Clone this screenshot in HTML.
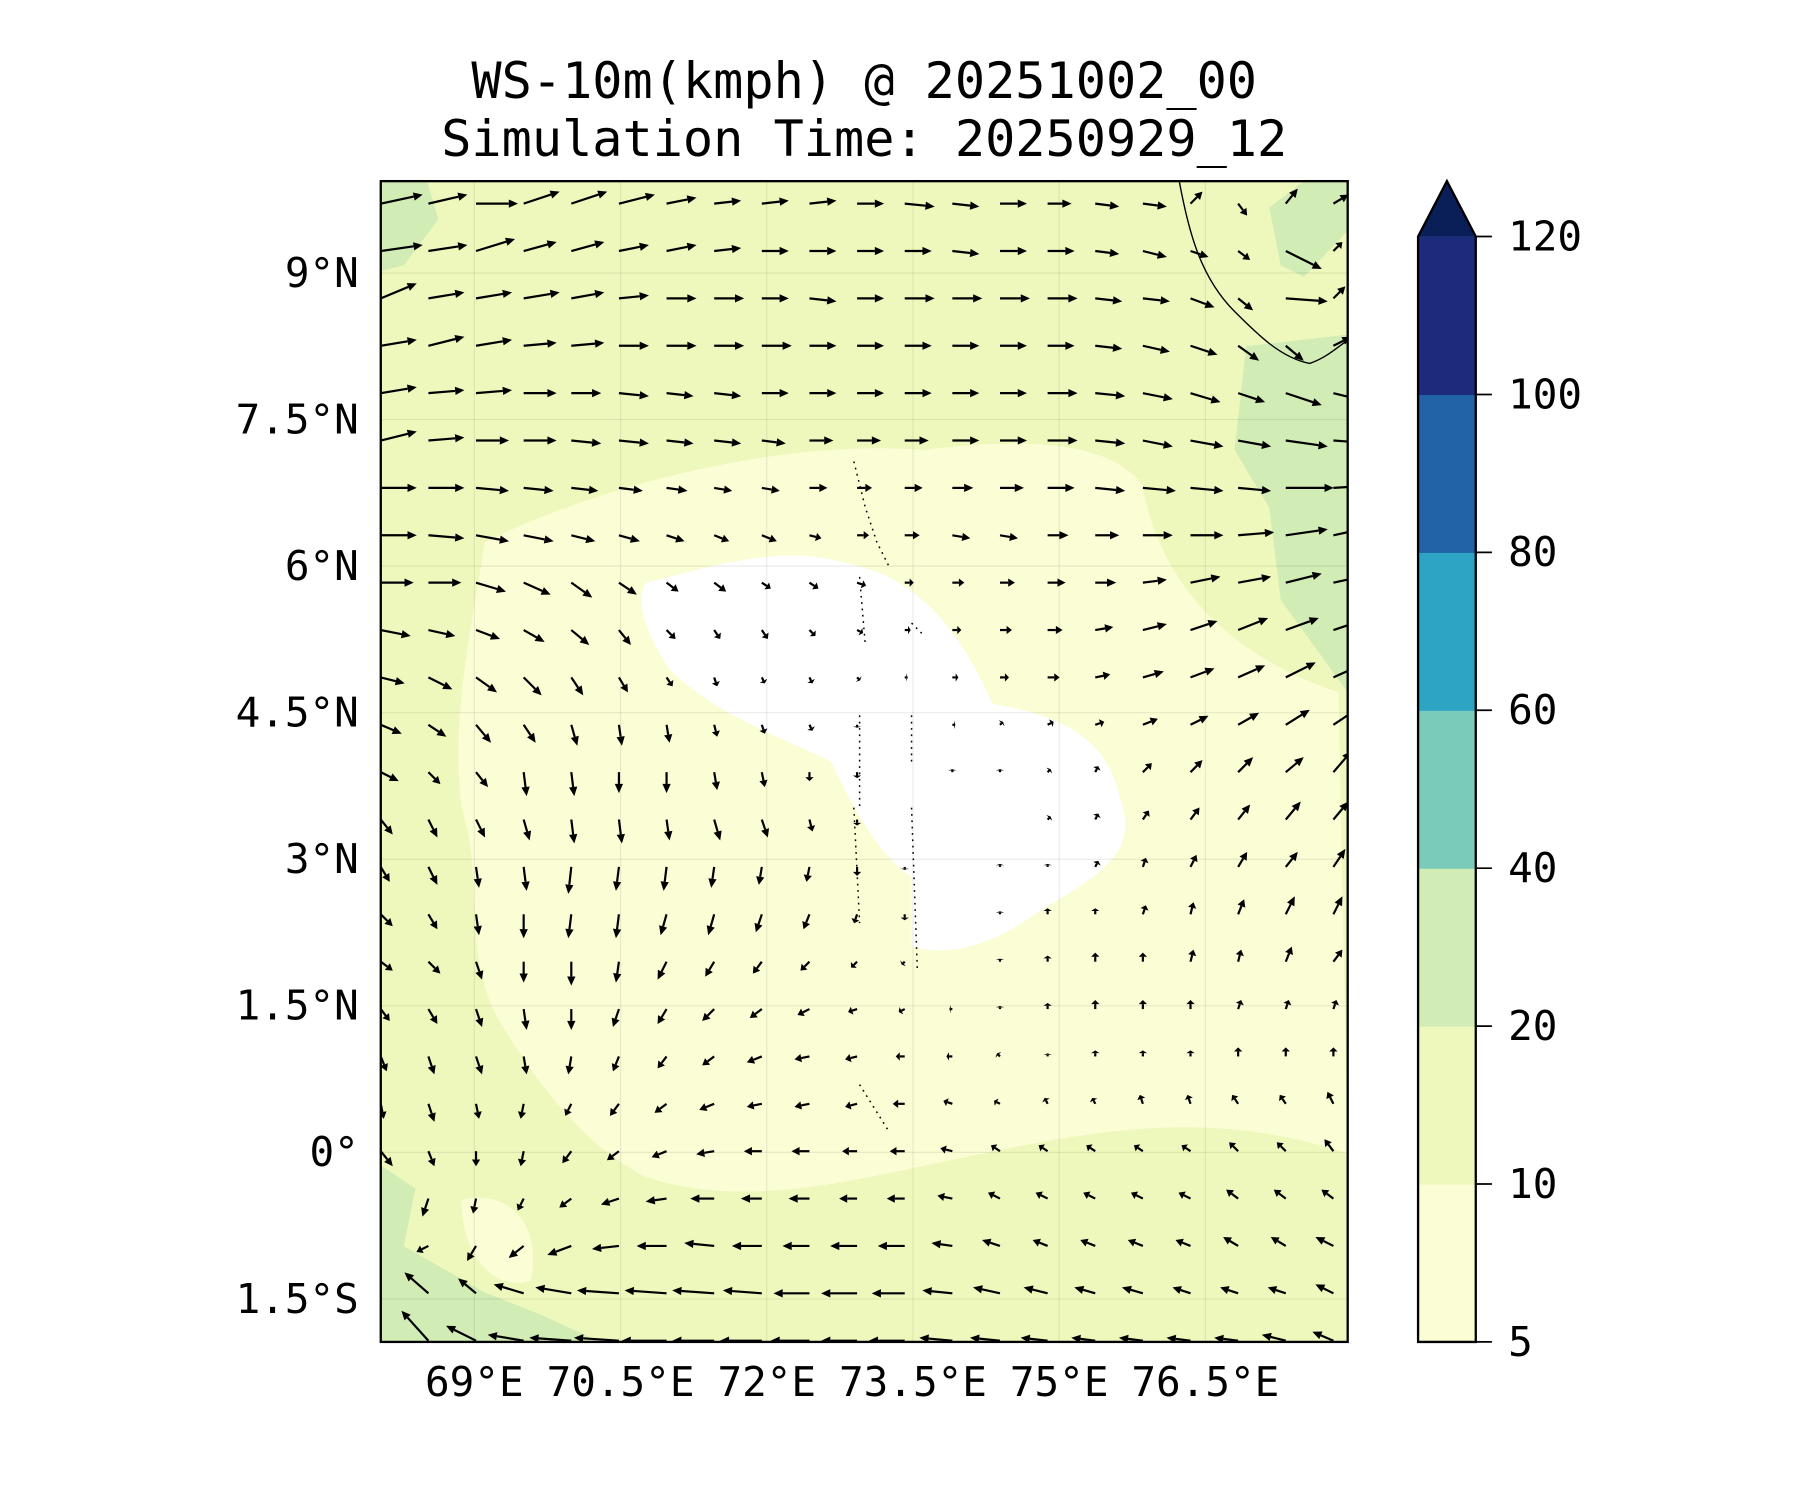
<!DOCTYPE html>
<html><head><meta charset="utf-8"><style>
html,body{margin:0;padding:0;background:#fff;}
svg{display:block;}
text{font-family:"DejaVu Sans Mono","Liberation Mono",monospace;fill:#000;}
</style></head><body>
<svg id="chart" width="1800" height="1500" viewBox="0 0 1560 1300">
<defs><clipPath id="pc"><rect x="330" y="157" width="838" height="1006"/></clipPath></defs>
<g>
<text x="749" y="85" font-size="43.5" text-anchor="middle">WS-10m(kmph) @ 20251002_00</text>
<text x="749" y="135" font-size="43.5" text-anchor="middle">Simulation Time: 20250929_12</text>
</g>
<g clip-path="url(#pc)">
<rect x="330" y="157" width="838" height="1006" fill="#eff8bc"/>
<g fill="#d1ecb5">
<path d="M1080,300 L1168,290 L1168,600 L1110,520 L1100,440 L1070,390 Z"/>
<path d="M330,1010 L360,1030 L350,1080 L420,1120 L470,1140 L520,1163 L330,1163 Z"/>
<path d="M1100,180 L1130,157 L1168,157 L1168,200 L1130,240 L1110,230 Z"/>
<path d="M330,157 L370,157 L380,190 L350,230 L330,235 Z"/>
</g>
<g fill="#fbfdd5">
<path d="M420,470 C520,420 680,380 800,390 C880,380 960,380 990,420 C1000,480 1040,560 1160,600 L1168,1000 C1050,960 950,980 850,1000 C750,1020 650,1050 560,1020 C500,990 460,930 430,880 C400,820 420,760 400,700 C390,620 410,540 420,470 Z"/>
<path d="M400,1040 C440,1030 470,1060 460,1110 C430,1120 400,1090 400,1040 Z"/>
</g>
<path fill="#ffffff" d="M560,505 C620,490 680,470 740,490 C790,500 830,540 860,610 C920,620 960,640 970,690 C990,740 950,760 900,790 C860,820 820,830 790,820 L790,760 C760,740 740,700 720,660 C680,640 620,620 580,580 C560,550 550,520 560,505 Z"/>
<g id="grid" stroke="#000" stroke-opacity="0.08" stroke-width="1"></g>
<path d="M1022,157 C1030,200 1040,240 1070,270 C1090,290 1110,310 1135,315 C1150,310 1160,300 1168,295" fill="none" stroke="#000" stroke-width="1.2"/>
<path d="M740,400 L750,440 L760,470 L770,490 M745,500 L750,560 M790,540 L800,550 M745,620 L745,700 M790,620 L790,660 M740,700 L745,800 M790,700 L795,840 M745,940 L770,980" fill="none" stroke="#000" stroke-width="1.3" stroke-dasharray="1.5,4"/>
<g id="arrows"></g>
</g>
<rect x="330" y="157" width="838" height="1006" fill="none" stroke="#000" stroke-width="2"/>
<g id="xticks"></g>
<g id="yticks"></g>
<g id="cbar"></g>
</svg>
<script>
const NS="http://www.w3.org/2000/svg";
const lonTicks=[69,70.5,72,73.5,75,76.5];
const lonLabels=["69°E","70.5°E","72°E","73.5°E","75°E","76.5°E"];
const latTicks=[9,7.5,6,4.5,3,1.5,0,-1.5];
const latLabels=["9°N","7.5°N","6°N","4.5°N","3°N","1.5°N","0°","1.5°S"];
const levels=[5,10,20,40,60,80,100,120];
const levelColors=["#fbfed5","#eff8bc","#d1ecb5","#7bcbbb","#2ea4c4","#2263a8","#1c2b7c"];
const extendColor="#0a1f58";
const U=[
[14,13,14,12,12,12,10,9,9,9,9,10,9,9,8,8,8,4,3,4,5],
[14,13,13,11,11,10,10,9,9,9,9,9,9,9,9,8,8,6,4,12,3],
[12,12,12,12,11,10,10,10,9,9,9,10,10,10,10,9,9,8,5,14,4],
[12,12,12,11,11,10,10,10,10,9,9,9,9,9,9,9,9,9,7,6,6],
[12,12,12,11,10,10,9,9,9,9,9,9,9,9,10,10,10,10,9,12,12],
[12,12,11,11,10,10,9,9,8,8,8,8,9,9,10,10,10,11,11,14,14],
[12,12,11,10,9,8,7,6,6,6,5,6,7,8,9,10,11,11,11,16,16],
[12,12,11,10,8,7,6,5,5,4,4,5,6,6,7,8,10,11,12,14,14],
[11,11,10,9,7,6,4,4,3,3,3,3,4,5,6,7,8,10,11,12,14],
[10,9,8,7,6,4,3,2,2,2,2,2,3,4,5,6,8,9,10,11,12],
[8,8,7,6,4,3,2,1,1,1,1,1,2,3,4,5,7,8,9,10,11],
[7,6,5,4,2,1,1,1,1,1,0,0,1,1,2,3,5,6,7,8,9],
[6,4,4,1,1,0,0,1,1,0,0,0,0,0,1,1,3,4,5,6,6],
[4,3,3,2,1,1,1,2,2,1,0,0,0,0,1,1,2,3,4,5,5],
[3,3,1,1,-1,-1,-1,-1,-1,-1,0,0,0,0,0,1,1,2,3,4,4],
[4,3,1,0,-1,-1,-2,-2,-2,-2,-1,0,0,0,0,0,1,1,2,3,3],
[4,4,2,0,0,-1,-3,-3,-3,-3,-2,-1,0,0,0,0,0,1,1,2,3],
[3,3,2,1,0,-2,-3,-4,-4,-4,-3,-2,-1,0,0,0,0,0,1,1,1],
[2,2,2,1,-1,-2,-3,-4,-5,-5,-4,-3,-2,-1,0,0,0,0,0,0,0],
[1,2,1,-1,-2,-3,-4,-5,-5,-5,-4,-4,-3,-2,-1,-1,-1,-1,-2,-2,-2],
[4,2,0,-1,-3,-4,-5,-6,-6,-6,-5,-5,-4,-3,-3,-3,-3,-3,-3,-3,-3],
[-2,-2,-1,-2,-4,-6,-7,-8,-7,-7,-6,-6,-5,-4,-4,-4,-4,-4,-4,-4,-4],
[-6,-4,-3,-5,-8,-9,-10,-10,-10,-9,-9,-9,-7,-6,-5,-5,-5,-5,-5,-5,-6],
[-6,-8,-6,-10,-12,-14,-14,-14,-13,-12,-12,-11,-10,-9,-8,-7,-7,-6,-6,-6,-6],
[-7,-9,-10,-12,-14,-15,-15,-14,-14,-13,-12,-12,-11,-10,-9,-8,-8,-8,-8,-8,-7]];
const V=[
[3,3,0,4,4,3,2,1,1,1,0,-1,-1,0,0,-1,-1,4,-4,5,3],
[2,2,4,3,3,2,2,1,0,0,0,0,-1,0,0,-1,-2,-2,-3,-6,3],
[5,2,2,2,2,1,0,0,0,-1,0,0,0,0,0,-1,-1,-3,-4,-1,4],
[2,3,2,1,1,0,0,0,0,0,0,0,0,0,0,-1,-2,-3,-5,-5,3],
[2,1,1,0,0,-1,-1,-1,0,0,0,0,0,0,0,-1,-2,-3,-3,-4,-3],
[3,1,0,0,-1,-1,-1,-1,-1,0,0,0,0,0,0,-1,-2,-2,-2,-2,-1],
[0,0,-1,-1,-1,-1,-1,-1,-1,0,0,0,0,0,0,-1,-1,-1,-1,0,1],
[0,-1,-2,-2,-2,-2,-2,-2,-2,-1,0,0,-1,-1,0,0,0,0,1,2,3],
[0,0,-3,-4,-5,-4,-3,-3,-2,-2,-1,0,0,0,0,0,1,2,2,3,3],
[-2,-2,-3,-4,-5,-5,-3,-3,-3,-2,-1,0,0,0,0,1,2,3,4,4,4],
[-2,-4,-5,-6,-6,-5,-3,-3,-2,-2,-1,0,0,0,0,1,2,3,4,5,5],
[-3,-4,-6,-6,-7,-7,-6,-4,-3,-2,-1,0,0,1,1,1,2,3,4,5,6],
[-3,-4,-5,-8,-8,-7,-7,-6,-5,-3,-2,0,1,1,1,2,3,4,5,5,7],
[-5,-6,-6,-7,-8,-8,-7,-7,-6,-4,-2,0,0,0,1,2,3,4,5,6,6],
[-5,-6,-7,-8,-9,-8,-8,-7,-6,-5,-3,-1,0,1,1,2,3,4,5,5,6],
[-4,-5,-7,-8,-8,-8,-7,-7,-6,-5,-3,-2,0,1,2,2,3,4,5,6,6],
[-3,-4,-6,-7,-8,-7,-6,-5,-4,-3,-2,-1,0,1,2,3,3,4,4,5,4],
[-4,-5,-6,-7,-7,-6,-5,-4,-3,-2,-1,-1,0,1,2,3,3,3,3,3,3],
[-5,-6,-6,-6,-6,-5,-4,-3,-2,-1,-1,0,0,1,1,2,2,2,3,3,3],
[-5,-6,-5,-5,-4,-4,-3,-2,-1,-1,-1,0,1,1,2,2,3,3,3,3,4],
[-5,-5,-5,-5,-4,-3,-2,-1,0,0,0,0,1,2,2,2,2,2,3,3,4],
[-6,-6,-5,-4,-3,-2,-1,0,0,0,0,0,1,2,2,2,2,2,3,3,3],
[-1,-2,-5,-4,-3,-1,0,1,0,0,0,0,1,2,2,2,2,2,3,3,3],
[8,7,5,3,2,1,1,1,1,0,0,0,1,2,2,2,2,2,2,2,3],
[9,10,5,2,1,1,0,0,0,0,0,0,1,1,1,1,1,1,1,2,3]];
const lonMin=68.04, lonMax=77.96, latMax=9.94, latMin=-1.94;
const X0=330,X1=1168,Y0=157,Y1=1163;
function xS(lon){return X0+(lon-lonMin)/(lonMax-lonMin)*(X1-X0);}
function yS(lat){return Y0+(latMax-lat)/(latMax-latMin)*(Y1-Y0);}
function el(tag,attrs,parent){const e=document.createElementNS(NS,tag);for(const k in attrs)e.setAttribute(k,attrs[k]);parent.appendChild(e);return e;}
const grid=document.getElementById('grid');
lonTicks.forEach(function(l){const g=el('line',{x1:xS(l),x2:xS(l),y1:Y0,y2:Y1},grid);

});
latTicks.forEach(function(l){const g=el('line',{x1:X0,x2:X1,y1:yS(l),y2:yS(l)},grid);

});
const xt=document.getElementById('xticks');
lonTicks.forEach(function(l,i){const t=el('text',{x:xS(l),y:1210,'font-size':35.5,'text-anchor':'middle'},xt);t.textContent=lonLabels[i];

});
const yt=document.getElementById('yticks');
latTicks.forEach(function(l,i){const t=el('text',{x:311,y:yS(l)+12,'font-size':35.5,'text-anchor':'end'},yt);t.textContent=latLabels[i];

});
const ar=document.getElementById('arrows');
const sc=2.6, lonStep=(lonMax-lonMin)/20.3, latStep=(latMax-latMin)/24.5;
for(let r=0;r<U.length;r++){for(let c=0;c<U[r].length;c++){
const lon=lonMin+c*lonStep, lat=latMax-0.23-r*latStep;
const x=xS(lon), y=yS(lat);
const dx=U[r][c]*sc, dy=-V[r][c]*sc;
const L=Math.hypot(dx,dy); if(L<0.5) continue;
const ux=dx/L, uy=dy/L, hl=Math.min(8,L*0.45), hw=3.6;
const bx=x+dx-ux*hl, by=y+dy-uy*hl;
const g=el('g',{},ar);


el('line',{x1:x,y1:y,x2:bx,y2:by,stroke:'#000','stroke-width':1.9},g);
el('polygon',{points:(x+dx)+','+(y+dy)+' '+(bx-uy*hw)+','+(by+ux*hw)+' '+(bx+uy*hw)+','+(by-ux*hw),fill:'#000'},g);
}}
const cb=document.getElementById('cbar');
const CX=1229,CW=50,CT=205,CB=1163;
function cy(i){return CB-i*(CB-CT)/(levels.length-1);}
levelColors.forEach(function(col,i){const r=el('rect',{x:CX,y:cy(i+1),width:CW,height:cy(i)-cy(i+1)+0.5,fill:col},cb);

});
const tri=el('polygon',{points:CX+','+CT+' '+(CX+CW/2)+',157 '+(CX+CW)+','+CT,fill:extendColor},cb);


el('path',{d:'M'+CX+','+CB+' L'+CX+','+CT+' L'+(CX+CW/2)+',157 L'+(CX+CW)+','+CT+' L'+(CX+CW)+','+CB+' Z',fill:'none',stroke:'#000','stroke-width':2},cb);
levels.forEach(function(v,i){const y=cy(i);el('line',{x1:CX+CW,x2:CX+CW+14,y1:y,y2:y,stroke:'#000','stroke-width':1.5},cb);
const t=el('text',{x:1307,y:y+12,'font-size':35.5},cb);t.textContent=v;

});
</script>
</body></html>
